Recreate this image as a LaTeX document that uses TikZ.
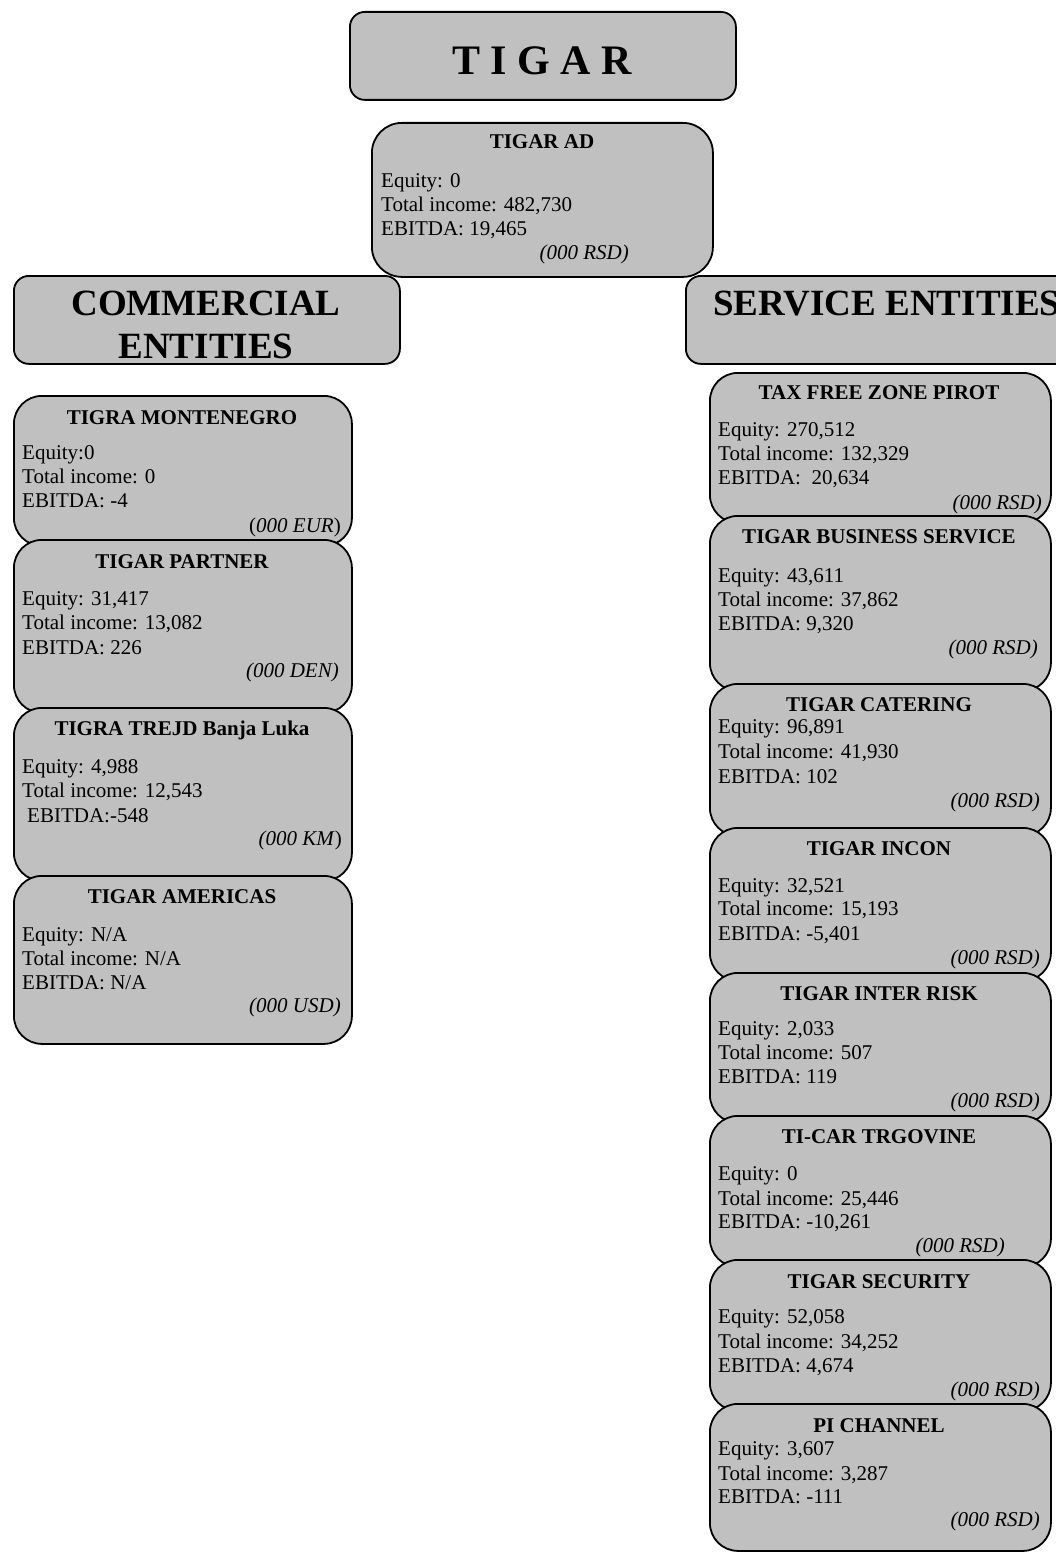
\documentclass[tikz,border=0pt]{standalone}
\usepackage{fontspec}
\setmainfont{Liberation Serif}
\definecolor{boxgray}{HTML}{C0C0C0}
\pgfdeclarelayer{boxes}
\pgfsetlayers{boxes,main}
\tikzset{
 ebox/.style={draw=black, fill=boxgray, line width=1.8pt, rounded corners=28pt, inner sep=0pt, anchor=north west},
 hbox/.style={ebox, rounded corners=15pt},
 ttl/.style={anchor=base, inner sep=0pt, font=\fontsize{21}{24}\selectfont\bfseries},
 txt/.style={anchor=base west, inner sep=0pt, font=\fontsize{21}{24}\selectfont},
 unit/.style={anchor=base east, inner sep=0pt, font=\fontsize{21}{24}\selectfont},
 head/.style={anchor=base, inner sep=0pt, font=\fontsize{37}{43}\selectfont\bfseries},
}
\begin{document}
\begin{tikzpicture}[x=1pt,y=-1pt]
\useasboundingbox (0,0) rectangle (1055,1552);
\clip (0,0) rectangle (1055,1552);

\begin{pgfonlayer}{boxes}
\node[hbox, minimum width=386pt, minimum height=88pt] (tigar) at (349,11) {};
\node[ebox, rounded corners=30pt, minimum width=341pt, minimum height=154pt] (ad) at (371,122) {};
\node[hbox, minimum width=386pt, minimum height=88pt] (comm) at (13,275) {};
\node[hbox, minimum width=420pt, minimum height=88pt] (serv) at (685,275) {};
% left column
\node[ebox, minimum width=338pt, minimum height=150pt] (mont) at (13,395) {};
\node[ebox, minimum width=338pt, minimum height=173pt] (part) at (13,539) {};
\node[ebox, minimum width=338pt, minimum height=173pt] (trejd) at (13,707) {};
\node[ebox, minimum width=338pt, minimum height=168pt] (amer) at (13,875) {};
% right column
\node[ebox, minimum width=341pt, minimum height=150pt] (pirot) at (709,372) {};
\node[ebox, minimum width=341pt, minimum height=175pt] (bus) at (709,515) {};
\node[ebox, minimum width=341pt, minimum height=152pt] (cat) at (709,683) {};
\node[ebox, minimum width=341pt, minimum height=153pt] (incon) at (709,827) {};
\node[ebox, minimum width=341pt, minimum height=150pt] (risk) at (709,972) {};
\node[ebox, minimum width=341pt, minimum height=151pt] (ticar) at (709,1115) {};
\node[ebox, minimum width=341pt, minimum height=151pt] (sec) at (709,1259) {};
\node[ebox, minimum width=341pt, minimum height=147pt] (pi) at (709,1403) {};
\end{pgfonlayer}

% top title
\node[anchor=base, inner sep=0pt, font=\fontsize{42}{48}\selectfont\bfseries] (tigar-t) at (542,75) {T I G A R};

% TIGAR AD
\node[ttl] (ad-t) at (542,149) {TIGAR AD};
\node[txt] (ad-1) at (381,187) {Equity: 0};
\node[txt] (ad-2) at (381,211) {Total income: 482,730};
\node[txt] (ad-3) at (381,235) {EBITDA: 19,465};
\node[unit] (ad-u) at (629,259) {\itshape (000 RSD)};

% headings
\node[head] (comm-1) at (206,315) {COMMERCIAL};
\node[head] (comm-2) at (206,358) {ENTITIES};
\node[head, anchor=base west] (serv-1) at (713,315) {SERVICE ENTITIES};

% left column texts
\node[ttl] (mont-t) at (182,424) {TIGRA MONTENEGRO};
\node[txt] (mont-1) at (22,459) {Equity:0};
\node[txt] (mont-2) at (22,483) {Total income: 0};
\node[txt] (mont-3) at (22,507) {EBITDA: -4};
\node[unit] (mont-u) at (341,532) {(\textit{000 EUR})};

\node[ttl] (part-t) at (182,568) {TIGAR PARTNER};
\node[txt] (part-1) at (22,605) {Equity: 31,417};
\node[txt] (part-2) at (22,629) {Total income: 13,082};
\node[txt] (part-3) at (22,654) {EBITDA: 226};
\node[unit] (part-u) at (339,677) {\itshape (000 DEN)};

\node[ttl] (trejd-t) at (182,735) {TIGRA TREJD Banja Luka};
\node[txt] (trejd-1) at (22,773) {Equity: 4,988};
\node[txt] (trejd-2) at (22,797) {Total income: 12,543};
\node[txt] (trejd-3) at (27,822) {EBITDA:-548};
\node[unit] (trejd-u) at (342,845) {\textit{(000 KM})};

\node[ttl] (amer-t) at (182,903) {TIGAR AMERICAS};
\node[txt] (amer-1) at (22,941) {Equity: N/A};
\node[txt] (amer-2) at (22,965) {Total income: N/A};
\node[txt] (amer-3) at (22,989) {EBITDA: N/A};
\node[unit] (amer-u) at (341,1012) {\itshape (000 USD)};

% right column texts
\node[ttl] (pirot-t) at (879,399) {TAX FREE ZONE PIROT};
\node[txt] (pirot-1) at (718,436) {Equity: 270,512};
\node[txt] (pirot-2) at (718,460) {Total income: 132,329};
\node[txt] (pirot-3) at (718,484) {EBITDA:\ \ 20,634};
\node[unit] (pirot-u) at (1042,509) {\itshape (000 RSD)};

\node[ttl] (bus-t) at (879,543) {TIGAR BUSINESS SERVICE};
\node[txt] (bus-1) at (718,582) {Equity: 43,611};
\node[txt] (bus-2) at (718,606) {Total income: 37,862};
\node[txt] (bus-3) at (718,630) {EBITDA: 9,320};
\node[unit] (bus-u) at (1038,654) {\itshape (000 RSD)};

\node[ttl] (cat-t) at (879,711) {TIGAR CATERING};
\node[txt] (cat-1) at (718,733) {Equity: 96,891};
\node[txt] (cat-2) at (718,758) {Total income: 41,930};
\node[txt] (cat-3) at (718,783) {EBITDA: 102};
\node[unit] (cat-u) at (1040,807) {\itshape (000 RSD)};

\node[ttl] (incon-t) at (879,855) {TIGAR INCON};
\node[txt] (incon-1) at (718,892) {Equity: 32,521};
\node[txt] (incon-2) at (718,915) {Total income: 15,193};
\node[txt] (incon-3) at (718,940) {EBITDA: -5,401};
\node[unit] (incon-u) at (1040,964) {\itshape (000 RSD)};

\node[ttl] (risk-t) at (879,1000) {TIGAR INTER RISK};
\node[txt] (risk-1) at (718,1035) {Equity: 2,033};
\node[txt] (risk-2) at (718,1059) {Total income: 507};
\node[txt] (risk-3) at (718,1083) {EBITDA: 119};
\node[unit] (risk-u) at (1040,1107) {\itshape (000 RSD)};

\node[ttl] (ticar-t) at (879,1143) {TI-CAR TRGOVINE};
\node[txt] (ticar-1) at (718,1180) {Equity: 0};
\node[txt] (ticar-2) at (718,1205) {Total income: 25,446};
\node[txt] (ticar-3) at (718,1228) {EBITDA: -10,261};
\node[unit] (ticar-u) at (1005,1252) {\itshape (000 RSD)};

\node[ttl] (sec-t) at (879,1288) {TIGAR SECURITY};
\node[txt] (sec-1) at (718,1323) {Equity: 52,058};
\node[txt] (sec-2) at (718,1348) {Total income: 34,252};
\node[txt] (sec-3) at (718,1372) {EBITDA: 4,674};
\node[unit] (sec-u) at (1040,1396) {\itshape (000 RSD)};

\node[ttl] (pi-t) at (879,1432) {PI CHANNEL};
\node[txt] (pi-1) at (718,1455) {Equity: 3,607};
\node[txt] (pi-2) at (718,1480) {Total income: 3,287};
\node[txt] (pi-3) at (718,1503) {EBITDA: -111};
\node[unit] (pi-u) at (1040,1526) {\itshape (000 RSD)};
\end{tikzpicture}
\end{document}
